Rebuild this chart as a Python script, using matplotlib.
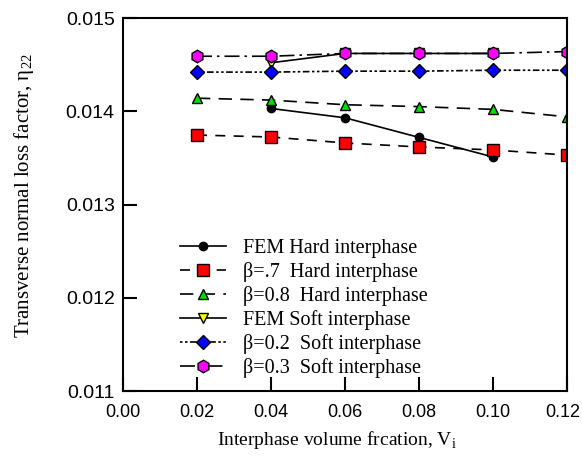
import matplotlib
matplotlib.use("Agg")
import matplotlib.pyplot as plt
import matplotlib.transforms as mtransforms

# Daten
x_all = [0.02, 0.04, 0.06, 0.08, 0.10, 0.12]
x_fem = [0.04, 0.06, 0.08, 0.10]

fem_hard = [0.01403, 0.01393, 0.01372, 0.01351]
beta07_hard = [0.013745, 0.013724, 0.01366, 0.013617, 0.013585, 0.01353]
beta08_hard = [0.01414, 0.01412, 0.01407, 0.01405, 0.01402, 0.01394]
fem_soft = [0.01452, 0.01462, 0.01462, 0.01462]
beta02_soft = [0.01442, 0.01442, 0.01443, 0.01443, 0.01444, 0.01444]
beta03_soft = [0.01459, 0.01459, 0.01462, 0.01462, 0.01462, 0.01464]

labels = ["FEM Hard interphase", "\u03b2=.7  Hard interphase", "\u03b2=0.8  Hard interphase",
          "FEM Soft interphase", "\u03b2=0.2  Soft interphase", "\u03b2=0.3  Soft interphase"]

xticks = [0.00, 0.02, 0.04, 0.06, 0.08, 0.10, 0.12]
yticks = [0.011, 0.012, 0.013, 0.014, 0.015]

plt.rcParams['mathtext.fontset'] = 'custom'
plt.rcParams['mathtext.rm'] = 'Liberation Serif'

fig = plt.figure(figsize=(5.82, 4.63), dpi=100)
ax = fig.add_axes([0.2113, 0.1555, 0.7629, 0.8056])

lw = 1.2
ax.plot(x_fem, fem_hard, color='black', lw=lw, marker='o', ms=6,
        mfc='black', mec='black', label=labels[0])
ax.plot(x_all, beta07_hard, color='black', lw=lw, ls=(0, (6, 5)), marker='s', ms=8,
        mfc='red', mec='black', label=labels[1])
ax.plot(x_all, beta08_hard, color='black', lw=lw, ls=(0, (8, 5)), marker='^', ms=7,
        mfc='#00dd00', mec='black', label=labels[2])
ax.plot(x_fem, fem_soft, color='black', lw=lw, marker='v', ms=7,
        mfc='yellow', mec='black', label=labels[3])
ax.plot(x_all, beta02_soft, color='black', lw=lw, ls=(0, (1.5, 1.5, 1.5, 1.5, 4, 1.5)),
        marker='D', ms=7, mfc='blue', mec='black', label=labels[4])
ax.plot(x_all, beta03_soft, color='black', lw=lw, ls=(0, (9, 3, 1.5, 3)), marker='h', ms=9,
        mfc='magenta', mec='black', label=labels[5])

ax.set_xlim(0, 0.12)
ax.set_ylim(0.011, 0.015)
ax.set_xticks(xticks)
ax.set_yticks(yticks)
ax.set_xticklabels([f"{t:.2f}" for t in xticks], family='Liberation Sans', fontsize=13)
ax.set_yticklabels([f"{t:.3f}" for t in yticks], family='Liberation Sans', fontsize=14)
ax.tick_params(direction='in', length=10, width=1.5, top=False, right=False, pad=6)
ax.tick_params(axis='x', pad=9)
for s in ax.spines.values():
    s.set_linewidth(1.5)

# letztes Label etwas nach links, damit es nicht abgeschnitten wird
last = ax.get_xticklabels()[-1]
last.set_transform(last.get_transform() + mtransforms.ScaledTranslation(-4 / 100, 0, fig.dpi_scale_trans))

ax.set_xlabel("Interphase volume frcation, V$_\\mathregular{i}$", family='Liberation Serif',
              fontsize=14, va='center')
ax.set_ylabel("Transverse normal loss factor, \u03b7$_\\mathregular{22}$", family='Liberation Serif',
              fontsize=15, va='center')
ax.xaxis.set_label_coords(0.482, -0.131)
ax.yaxis.set_label_coords(-0.223, 0.525)

ax.legend(loc='lower left', bbox_to_anchor=(0.128, 0.035), frameon=False,
          prop={'family': 'Liberation Serif', 'size': 14.5}, handlelength=2.3,
          labelspacing=0.2, handletextpad=0.85, borderaxespad=0, borderpad=0)

plt.savefig("out.png", dpi=100)
